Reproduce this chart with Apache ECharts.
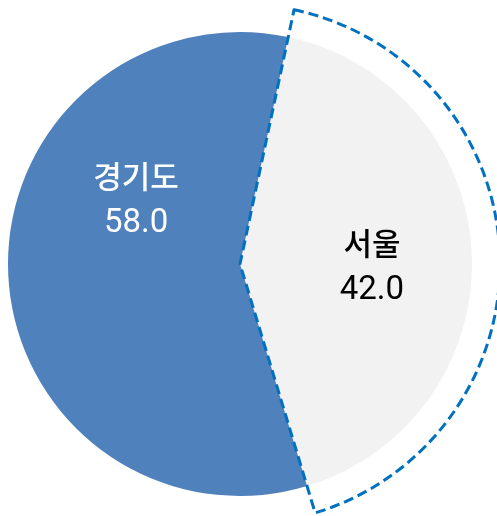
<!DOCTYPE html>
<html>
<head>
<meta charset="utf-8">
<script src="https://cdn.jsdelivr.net/npm/echarts@6/dist/echarts.min.js"></script>
<style>
  html, body { margin: 0; padding: 0; background: #fff; }
  #main { width: 497px; height: 516px; }
</style>
</head>
<body>
<div id="main"></div>
<script>
// 지역별 비중
const regions = ['서울', '경기도']
const shares = [42.0, 58.0]
const sliceColors = ['#f2f2f2', '#4f81bd']
const labelColors = ['#000000', '#ffffff']

const chart = echarts.init(document.getElementById('main'), null, { renderer: 'canvas' })

const pieData = regions.map((name, i) => ({
  name: name,
  value: shares[i],
  itemStyle: { color: sliceColors[i] },
  label: { color: labelColors[i] }
}))

// 서울 조각만 점선 테두리
const outlineData = regions.map((name, i) => ({
  name: name,
  value: shares[i],
  itemStyle: i === 0
    ? { color: 'rgba(0,0,0,0)', borderColor: '#0070c0', borderWidth: 3, borderType: [10, 5] }
    : { color: 'rgba(0,0,0,0)', borderWidth: 0 }
}))

// 라벨 위치 보정
const labelShift = [[13, 8], [15, -69]]

chart.setOption({
  animation: false,
  series: [
    {
      type: 'pie',
      center: [240, 264],
      radius: [0, 232],
      startAngle: 78,
      clockwise: true,
      silent: true,
      label: {
        show: true,
        position: 'inside',
        formatter: p => '{n|' + p.name + '}\n{v|' + p.value.toFixed(1) + '}',
        rich: {
          n: { fontFamily: 'Noto Sans CJK KR', fontWeight: 500, fontSize: 31, lineHeight: 47 },
          v: { fontFamily: 'Roboto', fontWeight: 'normal', fontSize: 33, lineHeight: 47 }
        }
      },
      labelLine: { show: false },
      labelLayout: p => ({ dx: labelShift[p.dataIndex][0], dy: labelShift[p.dataIndex][1] }),
      data: pieData
    },
    {
      type: 'pie',
      center: [240, 264],
      radius: [0, 260],
      startAngle: 78,
      clockwise: true,
      silent: true,
      label: { show: false },
      labelLine: { show: false },
      data: outlineData
    }
  ]
})
</script>
</body>
</html>
